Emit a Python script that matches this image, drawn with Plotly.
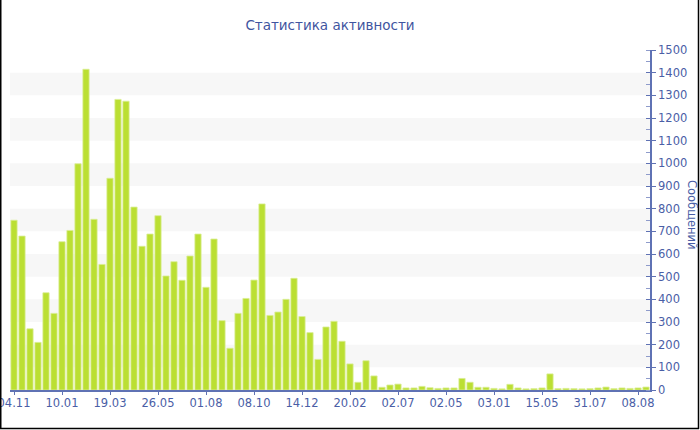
import plotly.graph_objects as go

values = [749, 679, 270, 210, 429, 338, 654, 704, 998, 1415,
          753, 554, 934, 1282, 1274, 807, 634, 688, 769, 503,
          566, 484, 591, 688, 453, 666, 306, 184, 338, 404,
          485, 821, 329, 344, 400, 493, 324, 253, 135, 278,
          303, 215, 115, 34, 129, 62, 12, 22, 26, 9,
          9, 16, 10, 7, 9, 9, 51, 34, 12, 12,
          7, 5, 25, 9, 5, 6, 9, 71, 6, 7,
          6, 5, 6, 9, 13, 6, 9, 7, 9, 13]
tick_labels = ["04.11", "10.01", "19.03", "26.05", "01.08", "08.10", "14.12",
               "20.02", "02.07", "02.05", "03.01", "15.05", "31.07", "08.08"]
title_text = "Статистика активности"
y_title = "Сообщений"

x_idx = list(range(len(values)))
tick_pos = list(range(0, len(values), 6))[:len(tick_labels)]

txt = "#4a5ea6"
axis_col = "#5f72b4"

fig = go.Figure(go.Bar(
    x=x_idx, y=values,
    marker=dict(color="#bbdf33", line=dict(color="#d9ee94", width=0.8)),
    hoverinfo="y",
))
# invisible trace on an overlaid axis to draw inward major ticks
fig.add_trace(go.Scatter(x=[x_idx[0]], y=[values[0]], yaxis="y2", mode="markers",
                         marker=dict(opacity=0), hoverinfo="skip", showlegend=False))

W, H, L, R, T, B = 700, 430, 10, 50, 50, 40
pw, ph = W - L - R, H - T - B
def px(x): return (x - L) / pw
def py(y): return (H - B - y) / ph

shapes = []
for lo in range(100, 1500, 200):
    shapes.append(dict(type="rect", xref="paper", yref="y", x0=0, x1=1, y0=lo, y1=lo + 100,
                       fillcolor="#f7f7f7", line=dict(width=0), layer="below"))
# frame border (left, right, bottom)
for (x0, y0, x1, y1) in [(0.75, 0, 0.75, 429), (698.5, 0, 698.5, 429), (0, 428.5, 699, 428.5)]:
    shapes.append(dict(type="line", xref="paper", yref="paper",
                       x0=px(x0), x1=px(x1), y0=py(y0), y1=py(y1),
                       line=dict(color="black", width=1.5)))

fig.update_layout(
    width=W, height=H,
    margin=dict(l=L, r=R, t=T, b=B, autoexpand=False),
    paper_bgcolor="white", plot_bgcolor="white",
    font=dict(family="DejaVu Sans", color=txt, size=12),
    title=dict(text=title_text, x=0.5, xref="paper", y=1 - 25 / H, yanchor="middle",
               font=dict(size=13.5, color="#3f55a0", family="DejaVu Sans")),
    bargap=0.22,
    showlegend=False,
    shapes=shapes,
    xaxis=dict(range=[-0.5, len(values) - 0.5], tickvals=tick_pos, ticktext=tick_labels,
               automargin=False, ticklabeloverflow="allow",
               showline=True, linecolor=axis_col, linewidth=1.5,
               ticks="outside", ticklen=3, tickcolor=axis_col, ticklabelstandoff=-2,
               showgrid=False, zeroline=False, tickfont=dict(size=11.5, color=txt)),
    yaxis=dict(range=[0, 1500], side="right", dtick=100, showgrid=False, zeroline=False,
               automargin=False, ticklabeloverflow="allow",
               showline=True, linecolor=axis_col, linewidth=1.5,
               ticks="outside", ticklen=4, tickcolor=axis_col,
               minor=dict(dtick=50, ticks="inside", ticklen=4, tickcolor="#8e9bcb"),
               tickfont=dict(size=11.5, color=txt)),
    yaxis2=dict(range=[0, 1500], side="right", overlaying="y", dtick=100, showgrid=False,
                zeroline=False, automargin=False, showticklabels=False,
                ticks="inside", ticklen=4, tickcolor=axis_col, showline=False),
    annotations=[dict(text=y_title, textangle=90, xref="paper", yref="paper",
                      x=px(692), y=py(215), xanchor="center", yanchor="middle",
                      showarrow=False, font=dict(size=11.5, color=txt))],
)

fig.write_html("out.html", config={"displayModeBar": False},
               post_script="document.body.style.margin='0';document.body.style.overflow='hidden';")
